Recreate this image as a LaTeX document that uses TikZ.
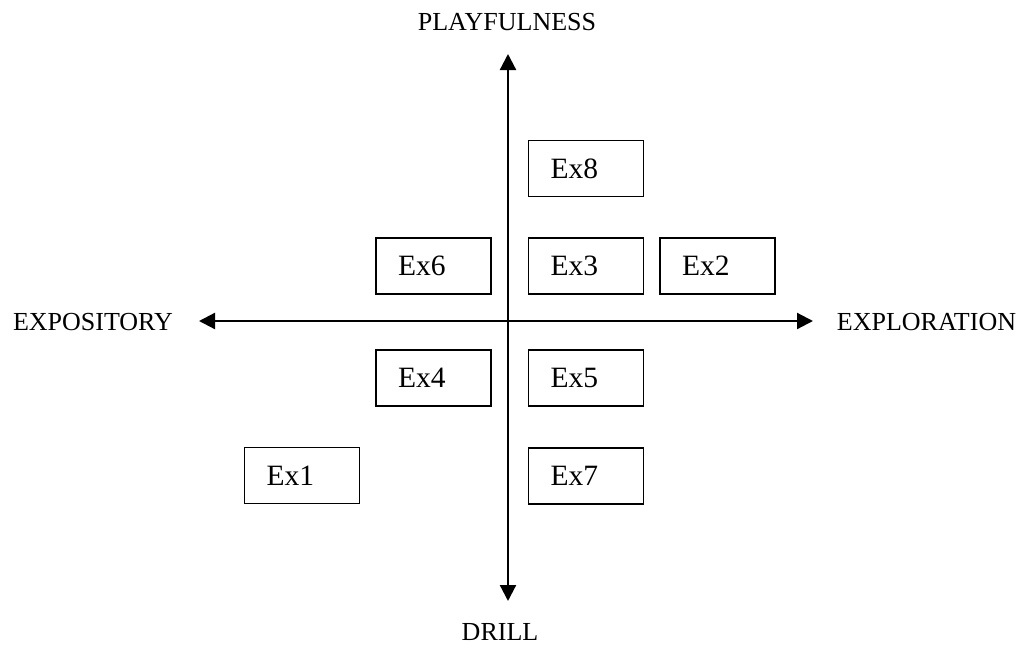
\documentclass[tikz,border=0pt]{standalone}
\usepackage{fontspec}
\setmainfont{Liberation Serif}
\usetikzlibrary{arrows.meta}
\begin{document}
\begin{tikzpicture}[x=1pt,y=-1pt,
  axis/.style={line width=2.2pt,{Triangle[length=16pt,width=16pt]}-{Triangle[length=16pt,width=16pt]}},
  axislabel/.style={font=\fontsize{26}{30}\selectfont,inner sep=0pt},
  exbox/.style={draw,line width=1.8pt,minimum width=115pt,minimum height=56pt,
    inner xsep=22pt,inner ysep=0pt,text width=71pt,align=left,
    font=\fontsize{29.5}{32}\selectfont}]
  \useasboundingbox (0,0) rectangle (1031,645);
  % axis end points
  \coordinate (top) at (508,54);
  \coordinate (bottom) at (508,601);
  \coordinate (left) at (199,321);
  \coordinate (right) at (813,321);
  \draw[axis] (top) -- (bottom);
  \draw[axis] (left) -- (right);
  % axis labels
  \node[axislabel] (play) at (507,22) {PLAYFULNESS};
  \node[axislabel] (drill) at (500,632) {DRILL};
  \node[axislabel] (expo) at (93,322.5) {EXPOSITORY};
  \node[axislabel] (explo) at (926.5,322.5) {EXPLORATION};
  % examples
  \node[exbox] (ex8) at (586,168.5) {Ex8};
  \node[exbox] (ex6) at (433.5,266) {Ex6};
  \node[exbox] (ex3) at (586,266) {Ex3};
  \node[exbox] (ex2) at (717.5,266) {Ex2};
  \node[exbox] (ex4) at (433.5,378) {Ex4};
  \node[exbox] (ex5) at (586,378) {Ex5};
  \node[exbox] (ex1) at (302,475.5) {Ex1};
  \node[exbox] (ex7) at (586,476) {Ex7};
\end{tikzpicture}
\end{document}
